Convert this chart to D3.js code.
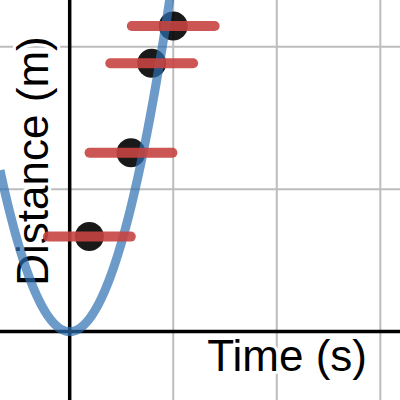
<!DOCTYPE html>
<html lang="en">
<head>
<meta charset="utf-8">
<title>Distance vs time</title>
<script src="https://cdn.jsdelivr.net/npm/d3@7"></script>
<style>
    body { margin: 0; background: #fff; }
    text.label {
        font-family: "Liberation Sans", Arial, sans-serif;
        font-size: 44px;
        fill: #000;
        stroke: #fff;
        stroke-width: 6px;
        stroke-linejoin: round;
        paint-order: stroke;
    }
</style>
</head>
<body>
<script>
    var w = 400;
    var h = 400;

    // measured points (time in s, distance in m) and horizontal error
    var times = [0.19, 0.592, 0.792, 1.0];
    var distances = [0.667, 1.256, 1.884, 2.145];
    var timeErr = [0.4, 0.4, 0.4, 0.4];

    // fitted curve d = k * t^2
    var fitCoef = 2.5;

    // grid positions
    var xGrid = [1, 2, 3];
    var yGrid = [1, 2];

    var xLabel = "Time (s)";
    var yLabel = "Distance (m)";

    var xScale = d3.scaleLinear().domain([-0.673, 3.19]).range([0, w]);
    var yScale = d3.scaleLinear().domain([-0.48, 2.328]).range([h, 0]);

    var svg = d3.select("body").append("svg")
        .attr("width", w)
        .attr("height", h);

    // grid
    svg.append("g").selectAll("line")
        .data(xGrid)
        .enter().append("line")
        .attr("x1", d => xScale(d)).attr("x2", d => xScale(d))
        .attr("y1", 0).attr("y2", h)
        .attr("stroke", "#bdbdbd")
        .attr("stroke-width", 2);

    svg.append("g").selectAll("line")
        .data(yGrid)
        .enter().append("line")
        .attr("y1", d => yScale(d)).attr("y2", d => yScale(d))
        .attr("x1", 0).attr("x2", w)
        .attr("stroke", "#bdbdbd")
        .attr("stroke-width", 2);

    // axes
    svg.append("line")
        .attr("x1", 0).attr("x2", w)
        .attr("y1", yScale(0)).attr("y2", yScale(0))
        .attr("stroke", "#000").attr("stroke-width", 3.5);
    svg.append("line")
        .attr("x1", xScale(0)).attr("x2", xScale(0))
        .attr("y1", 0).attr("y2", h)
        .attr("stroke", "#000").attr("stroke-width", 3.5);

    // axis labels
    svg.append("text")
        .attr("class", "label")
        .attr("x", 367).attr("y", 371)
        .attr("text-anchor", "end")
        .text(xLabel);

    svg.append("text")
        .attr("class", "label")
        .attr("transform", "translate(48,161) rotate(-90)")
        .attr("text-anchor", "middle")
        .text(yLabel);

    var pts = times.map((t, i) => ({t: t, d: distances[i], e: timeErr[i]}));

    // dots
    svg.append("g").selectAll("circle")
        .data(pts)
        .enter().append("circle")
        .attr("cx", d => xScale(d.t))
        .attr("cy", d => yScale(d.d))
        .attr("r", 14.5)
        .attr("fill", "#000")
        .attr("fill-opacity", 0.9);

    // fitted curve
    var tDomain = xScale.domain();
    var curveTs = d3.range(tDomain[0], tDomain[1], 0.005);
    svg.append("path")
        .datum(curveTs)
        .attr("fill", "none")
        .attr("stroke", "#2d70b3")
        .attr("stroke-opacity", 0.7)
        .attr("stroke-width", 9)
        .attr("d", d3.line()
            .x(t => xScale(t))
            .y(t => yScale(fitCoef * t * t)));

    // error bars
    svg.append("g").selectAll("line")
        .data(pts)
        .enter().append("line")
        .attr("x1", d => xScale(d.t - d.e))
        .attr("x2", d => xScale(d.t + d.e))
        .attr("y1", d => yScale(d.d))
        .attr("y2", d => yScale(d.d))
        .attr("stroke", "#c74440")
        .attr("stroke-opacity", 0.9)
        .attr("stroke-width", 10)
        .attr("stroke-linecap", "round");
</script>
</body>
</html>
